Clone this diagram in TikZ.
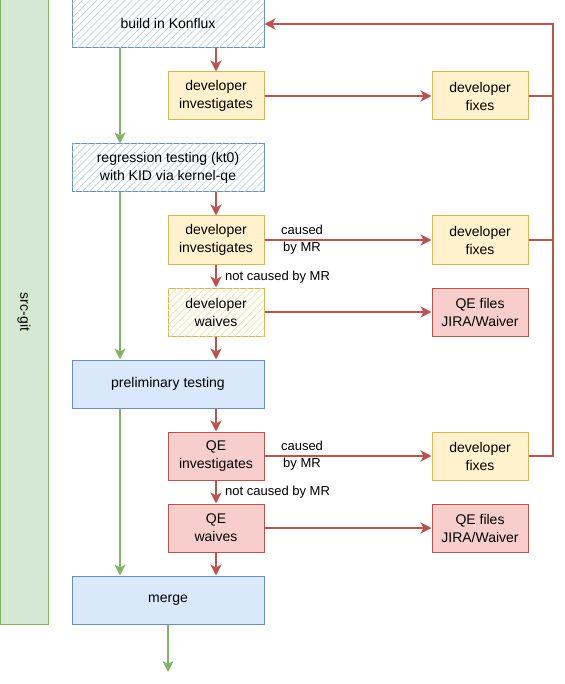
\documentclass[tikz,border=0pt]{standalone}
\usepackage{fontspec}
\setmainfont{Liberation Sans}
\usetikzlibrary{arrows.meta,patterns.meta}
\definecolor{gfill}{HTML}{D5E8D4}
\definecolor{gline}{HTML}{82B366}
\definecolor{bfill}{HTML}{DAE8FC}
\definecolor{bline}{HTML}{6C8EBF}
\definecolor{bhatch}{HTML}{BCD1EE}
\definecolor{yfill}{HTML}{FFF2CC}
\definecolor{yline}{HTML}{D6B656}
\definecolor{yhatch}{HTML}{F5E0A0}
\definecolor{rfill}{HTML}{F8CECC}
\definecolor{rline}{HTML}{B85450}
\tikzset{
  box/.style={draw, line width=1pt, minimum width=96pt, minimum height=48pt, align=center, inner sep=0pt, font=\fontsize{14}{18}\selectfont},
  wide/.style={box, minimum width=192pt},
  bluebox/.style={fill=bfill, draw=bline},
  bluehatch/.style={draw=bline, fill=white, postaction={pattern={Lines[angle=45,distance=5pt,line width=0.7pt]}, pattern color=bhatch}},
  yellowbox/.style={fill=yfill, draw=yline},
  yellowhatch/.style={draw=yline, fill=white, postaction={pattern={Lines[angle=45,distance=5pt,line width=0.7pt]}, pattern color=yhatch}},
  redbox/.style={fill=rfill, draw=rline},
  garrow/.style={draw=gline, line width=2pt, -{Stealth[length=11pt, width=11pt, inset=3pt]}},
  rarrow/.style={draw=rline, line width=2pt, -{Stealth[length=11pt, width=11pt, inset=3pt]}},
  rplain/.style={draw=rline, line width=2pt},
  lbl/.style={font=\fontsize{13}{17}\selectfont, align=center, inner sep=0pt}
}
\begin{document}
\begin{tikzpicture}[x=1pt,y=-1pt]
\useasboundingbox (0,0) rectangle (564,684);
\node[draw=gline, fill=gfill, line width=1pt, rotate=-90, minimum width=624pt, minimum height=48pt, inner sep=0pt, font=\fontsize{14}{17}\selectfont] (src) at (24,312) {src-git};
\node[wide, bluehatch] (build) at (168,24) {build in Konflux};
\node[box, yellowbox] (inv1) at (216,96) {developer\\investigates};
\node[box, yellowbox] (fix1) at (480,96) {developer\\fixes};
\node[wide, bluehatch] (reg) at (168,168) {regression testing (kt0)\\with KID via kernel-qe};
\node[box, yellowbox] (inv2) at (216,240) {developer\\investigates};
\node[box, yellowbox] (fix2) at (480,240) {developer\\fixes};
\node[box, yellowhatch] (waive) at (216,312) {developer\\waives};
\node[box, redbox] (qef1) at (480,312) {QE files\\JIRA/Waiver};
\node[wide, bluebox] (pre) at (168,384) {preliminary testing};
\node[box, redbox] (qeinv) at (216,456) {QE\\investigates};
\node[box, yellowbox] (fix3) at (480,456) {developer\\fixes};
\node[box, redbox] (qew) at (216,528) {QE\\waives};
\node[box, redbox] (qef2) at (480,528) {QE files\\JIRA/Waiver};
\node[wide, bluebox] (merge) at (168,600) {merge};
\coordinate (out) at (168,672);
% green flow
\draw[garrow] ([xshift=-48pt]build.south) -- ([xshift=-48pt]reg.north);
\draw[garrow] ([xshift=-48pt]reg.south) -- ([xshift=-48pt]pre.north);
\draw[garrow] ([xshift=-48pt]pre.south) -- ([xshift=-48pt]merge.north);
\draw[garrow] (merge.south) -- (out);
% red flow
\draw[rarrow] (inv1.north |- build.south) -- (inv1.north);
\draw[rarrow] (inv1.east) -- (fix1.west);
\draw[rplain] (fix1.east) -- ++(24pt,0);
\draw[rplain] (fix2.east) -- ++(24pt,0);
\draw[rarrow] (fix3.east) -- ++(24pt,0) |- (build.east);
\draw[rarrow] (inv2.north |- reg.south) -- (inv2.north);
\draw[rarrow] (inv2.east) -- (fix2.west);
\node[lbl] (l1) at (302,240) {caused\\by MR};
\draw[rarrow] (inv2.south) -- (waive.north);
\node[lbl, anchor=west] (l2) at (225,277) {not caused by MR};
\draw[rarrow] (waive.east) -- (qef1.west);
\draw[rarrow] (waive.south) -- (waive.south |- pre.north);
\draw[rarrow] (qeinv.north |- pre.south) -- (qeinv.north);
\draw[rarrow] (qeinv.east) -- (fix3.west);
\node[lbl] (l3) at (302,456) {caused\\by MR};
\draw[rarrow] (qeinv.south) -- (qew.north);
\node[lbl, anchor=west] (l4) at (225,492) {not caused by MR};
\draw[rarrow] (qew.east) -- (qef2.west);
\draw[rarrow] (qew.south) -- (qew.south |- merge.north);
\end{tikzpicture}
\end{document}
